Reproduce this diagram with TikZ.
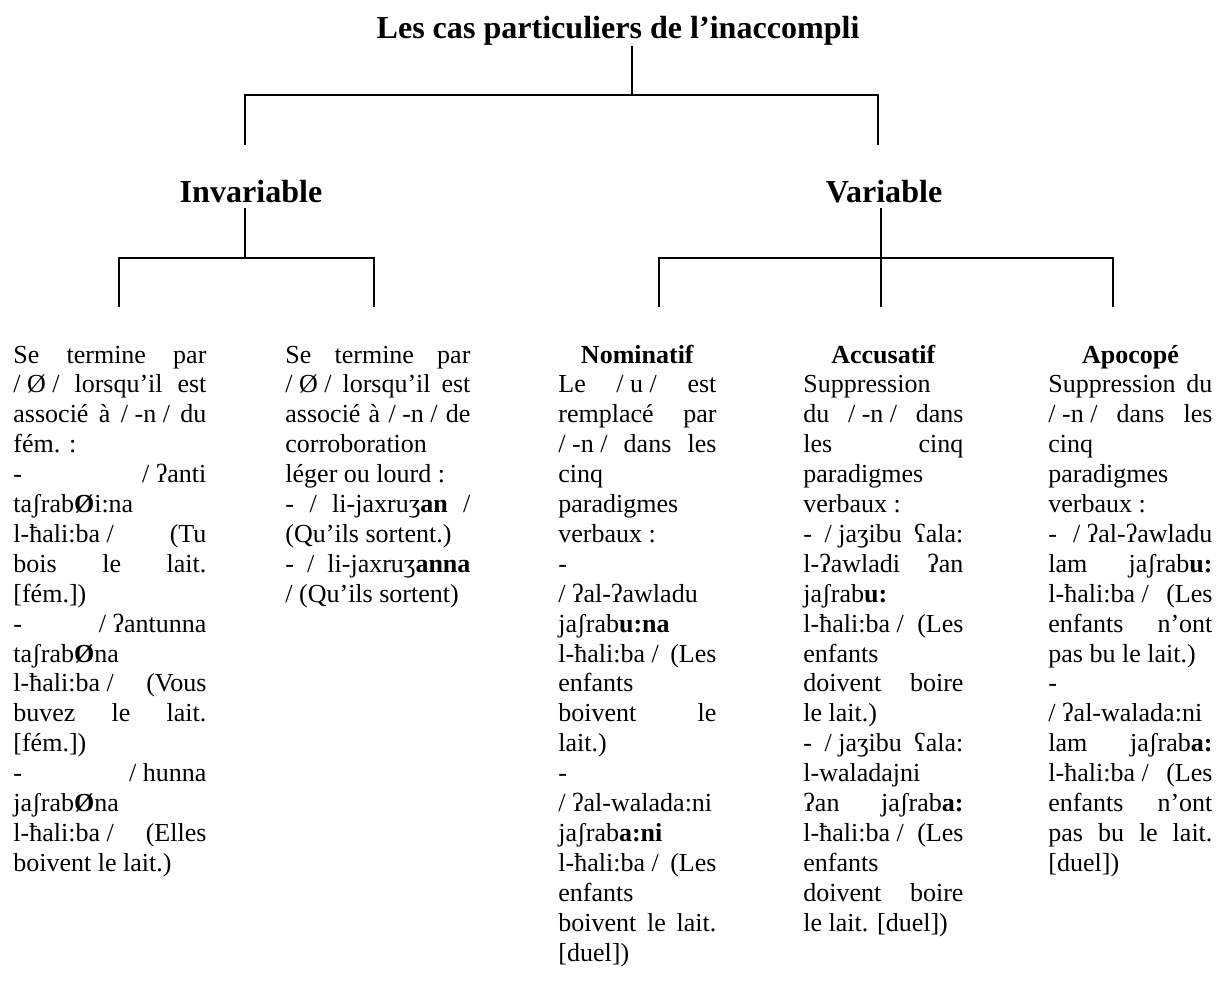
\documentclass[tikz,border=0pt]{standalone}
\usepackage{fontspec}
\setmainfont{Liberation Serif}
\newfontfamily\ipafont{Liberation Serif}
\newcommand\gst{{\ipafont ʔ}}
\newcommand\esh{{\ipafont ʃ}}
\newcommand\ezh{{\ipafont ʒ}}
\newcommand\rgs{{\ipafont ʕ}}
\newcommand\hb{{\ipafont ħ}}
\newcommand\F{\hspace{0pt plus 1fill}}
\newcommand\J[1]{\hbox to \hsize{#1}}
\newcommand\Lf[1]{\hbox to \hsize{#1\hfil}}
\newcommand\Cb[1]{\hbox to \hsize{\hfil\textbf{#1}\hfil}}
\newdimen\pxu \pxu=0.4615pt
\newcommand\colbox[2]{\vtop{\hsize=#1\pxu \baselineskip=13.8pt \lineskiplimit=-50pt \lineskip=0pt #2}}
\begin{document}
\begin{tikzpicture}[x=0.4615pt, y=-0.4615pt,
  conn/.style={line width=0.9pt, line cap=rect},
  head/.style={font=\fontsize{14.8}{17}\selectfont\bfseries, anchor=base, inner sep=0pt},
  colnode/.style={font=\fontsize{12}{13.8}\selectfont, anchor=base west, inner sep=0pt}]
\useasboundingbox (0,0) rectangle (1216,983);

% headings
\node[head] (title) at (618,39) {Les cas particuliers de l’inaccompli};
\node[head] (inv) at (251,203) {Invariable};
\node[head] (var) at (884,203) {Variable};

% junction coordinates
\coordinate (t0) at (632,47);  \coordinate (t1) at (632,95);
\coordinate (tl) at (245,95);  \coordinate (tr) at (878,95);
\coordinate (tlb) at (245,144); \coordinate (trb) at (878,144);
\coordinate (i0) at (245,209); \coordinate (i1) at (245,258);
\coordinate (il) at (119,258); \coordinate (ir) at (374,258);
\coordinate (ilb) at (119,306); \coordinate (irb) at (374,306);
\coordinate (v0) at (881,209); \coordinate (v1) at (881,258);
\coordinate (vl) at (659,258); \coordinate (vr) at (1113,258);
\coordinate (vlb) at (659,306); \coordinate (vmb) at (881,306); \coordinate (vrb) at (1113,306);

\draw[conn] (t0) -- (t1);
\draw[conn] (tlb) -- (tl) -- (tr) -- (trb);
\draw[conn] (i0) -- (i1);
\draw[conn] (ilb) -- (il) -- (ir) -- (irb);
\draw[conn] (v0) -- (v1);
\draw[conn] (vlb) -- (vl) -- (vr) -- (vrb);
\draw[conn] (v1) -- (vmb);

% column 1
\node[colnode] (c1) at (13,363) {\colbox{193}{%
\J{Se \F termine \F par}%
\J{/ Ø / \F lorsqu’il \F est}%
\J{associé \F à \F / -n / \F du}%
\Lf{fém. :}%
\J{- \F / \gst anti}%
\Lf{ta\esh rab\textbf{Ø}i:na}%
\J{l-\hb ali:ba / \F (Tu}%
\J{bois \F le \F lait.}%
\Lf{[fém.])}%
\J{- \F / \gst antunna}%
\Lf{ta\esh rab\textbf{Ø}na}%
\J{l-\hb ali:ba / \F (Vous}%
\J{buvez \F le \F lait.}%
\Lf{[fém.])}%
\J{- \F / hunna}%
\Lf{ja\esh rab\textbf{Ø}na}%
\J{l-\hb ali:ba / \F (Elles}%
\Lf{boivent le lait.)}%
}};

% column 2
\node[colnode] (c2) at (285,363) {\colbox{185}{%
\J{Se \F termine \F par}%
\J{/ Ø / \F lorsqu’il \F est}%
\J{associé \F à \F / -n / \F de}%
\Lf{corroboration}%
\Lf{léger ou lourd :}%
\J{- \F / \F li-jaxru\ezh\textbf{an} \F /}%
\Lf{(Qu’ils sortent.)}%
\J{- \F / \F li-jaxru\ezh\textbf{anna}}%
\Lf{/ (Qu’ils sortent)}%
}};

% Nominatif
\node[colnode] (c3) at (558,363) {\colbox{158}{%
\Cb{Nominatif}%
\J{Le \F / u / \F est}%
\J{remplacé \F par}%
\J{/ -n / \F dans \F les}%
\Lf{cinq}%
\Lf{paradigmes}%
\Lf{verbaux :}%
\Lf{-}%
\Lf{/ \gst al-\gst awladu}%
\Lf{ja\esh rab\textbf{u:na}}%
\J{l-\hb ali:ba / \F (Les}%
\Lf{enfants}%
\J{boivent \F le}%
\Lf{lait.)}%
\Lf{-}%
\Lf{/ \gst al-walada:ni}%
\Lf{ja\esh rab\textbf{a:ni}}%
\J{l-\hb ali:ba / \F (Les}%
\Lf{enfants}%
\J{boivent \F le \F lait.}%
\Lf{[duel])}%
}};

% Accusatif
\node[colnode] (c4) at (803,363) {\colbox{160}{%
\Cb{Accusatif}%
\Lf{Suppression}%
\J{du \F / -n / \F dans}%
\J{les \F cinq}%
\Lf{paradigmes}%
\Lf{verbaux :}%
\J{- \F / ja\ezh ibu \F \rgs ala:}%
\J{l-\gst awladi \F \gst an}%
\Lf{ja\esh rab\textbf{u:}}%
\J{l-\hb ali:ba / \F (Les}%
\Lf{enfants}%
\J{doivent \F boire}%
\Lf{le lait.)}%
\J{- \F / ja\ezh ibu \F \rgs ala:}%
\Lf{l-waladajni}%
\J{\gst an \F ja\esh rab\textbf{a:}}%
\J{l-\hb ali:ba / \F (Les}%
\Lf{enfants}%
\J{doivent \F boire}%
\Lf{le lait. [duel])}%
}};

% Apocope
\node[colnode] (c5) at (1048,363) {\colbox{164}{%
\Cb{Apocopé}%
\J{Suppression \F du}%
\J{/ -n / \F dans \F les}%
\Lf{cinq}%
\Lf{paradigmes}%
\Lf{verbaux :}%
\J{- \F / \gst al-\gst awladu}%
\J{lam \F ja\esh rab\textbf{u:}}%
\J{l-\hb ali:ba / \F (Les}%
\J{enfants \F n’ont}%
\Lf{pas bu le lait.)}%
\Lf{-}%
\Lf{/ \gst al-walada:ni}%
\J{lam \F ja\esh rab\textbf{a:}}%
\J{l-\hb ali:ba / \F (Les}%
\J{enfants \F n’ont}%
\J{pas \F bu \F le \F lait.}%
\Lf{[duel])}%
}};
\end{tikzpicture}
\end{document}
